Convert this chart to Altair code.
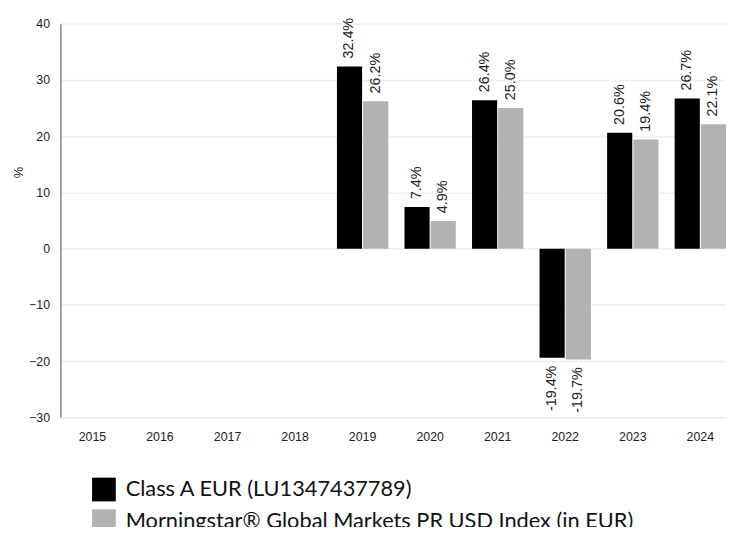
import altair as alt
import pandas as pd

years = ["2015", "2016", "2017", "2018", "2019", "2020", "2021", "2022", "2023", "2024"]
fund = [None, None, None, None, 32.4, 7.4, 26.4, -19.4, 20.6, 26.7]
index = [None, None, None, None, 26.2, 4.9, 25.0, -19.7, 19.4, 22.1]
series_names = ["Class A EUR (LU1347437789)", "Morningstar® Global Markets PR USD Index (in EUR)"]
colors = ["#000000", "#b2b2b2"]

rows = []
for i, y in enumerate(years):
    for s, vals in zip(series_names, [fund, index]):
        v = vals[i]
        rows.append({
            "year": y,
            "series": s,
            "value": v,
            "label": (f"{v:.1f}%" if v is not None else ""),
        })
df = pd.DataFrame(rows)

x = alt.X("year:N", sort=years, title=None,
          scale=alt.Scale(paddingInner=0.24, paddingOuter=0.047, align=1),
          axis=alt.Axis(labelAngle=0, labelPadding=13, ticks=False, domain=False,
                        labelFont="Liberation Sans", labelFontSize=12.5, labelColor="#222"))
xo = alt.XOffset("series:N", sort=series_names, scale=alt.Scale(paddingInner=0.04))
yenc = alt.Y("value:Q", title="%",
             scale=alt.Scale(domain=[-30, 40], nice=False),
             axis=alt.Axis(values=[-30, -20, -10, 0, 10, 20, 30, 40], ticks=False,
                           labelPadding=11, labelFont="Liberation Sans", labelFontSize=12.5,
                           labelColor="#222", domainColor="#888", domainWidth=1.5,
                           gridColor="#eeeeee", gridWidth=1.5,
                           titleFont="Liberation Sans", titleFontSize=13, titleFontWeight="normal",
                           titleColor="#222", titleAngle=270, titleAlign="center",
                           titleBaseline="middle", titleX=-42, titleY=150))

base = alt.Chart(df)

bars = base.mark_bar().encode(
    x=x, xOffset=xo, y=yenc,
    color=alt.Color("series:N", sort=series_names,
                    scale=alt.Scale(domain=series_names, range=colors),
                    legend=alt.Legend(title=None, orient="none", legendX=32, legendY=459,
                                      symbolType="square", symbolSize=576,
                                      symbolStrokeWidth=0, labelFont="Lato",
                                      labelFontSize=22, labelColor="#111",
                                      labelOffset=10, rowPadding=8, labelLimit=700)),
)

pos_labels = base.transform_filter("datum.value >= 0").mark_text(
    angle=270, align="left", baseline="middle", dx=8,
    font="Liberation Sans", fontSize=14.5, color="#222"
).encode(x=x, xOffset=xo, y=yenc, text="label:N")

neg_labels = base.transform_filter("datum.value < 0").mark_text(
    angle=270, align="right", baseline="middle", dx=-8,
    font="Liberation Sans", fontSize=14.5, color="#222"
).encode(x=x, xOffset=xo, y=yenc, text="label:N")

chart = (bars + pos_labels + neg_labels).properties(
    width=673, height=398,
    autosize=alt.AutoSizeParams(type="none"),
    padding={"left": 53, "top": 13, "right": 0, "bottom": 108},
).configure_view(stroke=None).configure(background="white")

chart.save("out.html", embed_options={"renderer": "svg", "actions": False})
